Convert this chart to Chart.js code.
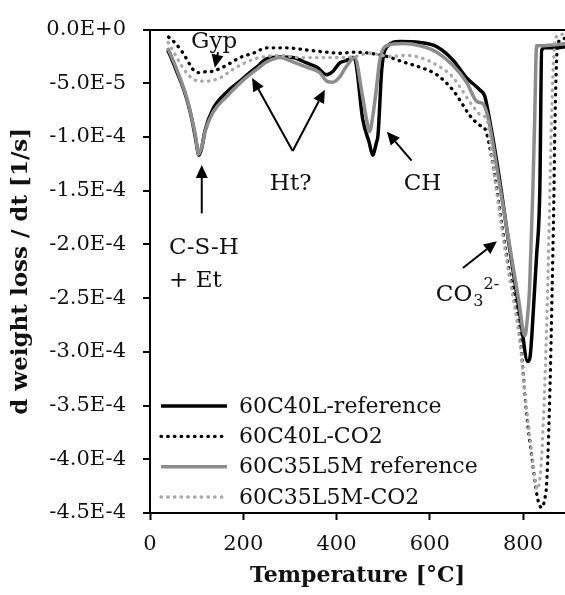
<!DOCTYPE html>
<html>
<head>
<meta charset="utf-8">
<script src="https://cdn.jsdelivr.net/npm/chart.js@4.4.1/dist/chart.umd.min.js"></script>
<style>
  html, body { margin: 0; padding: 0; background: #fff; overflow: hidden; }
</style>
</head>
<body>
<canvas id="dtg" width="565" height="595"></canvas>
<script>
// DTG curves, rate in units of 1E-5 1/s
const seriesNames = ['60C40L-reference', '60C40L-CO2', '60C35L5M reference', '60C35L5M-CO2'];

const refLTemp = [38, 49, 60, 71, 81, 90, 98, 105, 111, 118, 135, 165, 193, 214, 229, 251, 279, 306, 336, 358, 379, 392, 407, 420, 435, 440, 456, 470, 478, 485, 489, 497, 508, 536, 579, 615, 649, 679, 707, 718, 724, 746, 770, 795, 810, 815, 819, 829, 836, 840, 848, 870, 890];
const refLRate = [-1.9, -3.0, -4.2, -5.4, -6.8, -8.4, -10.2, -11.7, -11.0, -9.4, -7.4, -5.8, -4.8, -4.0, -3.5, -2.7, -2.55, -2.6, -3.1, -3.5, -4.2, -3.9, -3.1, -2.9, -2.6, -2.8, -8.3, -10.5, -11.7, -10.6, -9.8, -3.7, -1.6, -1.1, -1.2, -1.6, -2.8, -4.5, -5.6, -6.2, -7.4, -12.9, -20, -27, -30.9, -30.5, -28.4, -21.1, -14.9, -1.9, -1.7, -1.7, -1.6];

const co2LTemp = [40, 55, 71, 82, 92, 102, 111, 122, 133, 146, 165, 193, 221, 251, 293, 336, 379, 407, 440, 471, 508, 542, 579, 615, 649, 665, 686, 707, 718, 728, 765, 793, 808, 821, 831, 840, 846, 851, 858, 862, 866, 868, 871, 874, 880, 890];
const co2LRate = [-0.7, -1.3, -2.2, -3.0, -3.7, -4.0, -4.0, -3.9, -3.9, -3.7, -3.3, -2.6, -2.2, -1.7, -1.7, -1.9, -2.1, -2.2, -2.1, -2.2, -2.5, -3.0, -3.5, -4.2, -5.6, -6.6, -8.0, -8.9, -9.2, -10.8, -21.1, -28.4, -35.9, -40.5, -43.6, -44.5, -43.8, -42.0, -33, -25, -16, -10, -4, -1.5, -1.0, -0.8];

const refMTemp = [38, 49, 60, 71, 81, 90, 98, 104, 111, 118, 135, 165, 190, 208, 229, 251, 279, 306, 336, 364, 379, 392, 407, 420, 439, 455, 465, 471, 478, 486, 493, 508, 542, 579, 615, 649, 679, 701, 714, 724, 744, 770, 790, 804, 809, 814, 821, 825, 829, 840, 870, 890];
const refMRate = [-1.7, -2.8, -4.0, -5.3, -6.7, -8.3, -10.0, -11.6, -10.9, -9.5, -7.7, -6.2, -5.1, -4.4, -3.7, -3.0, -2.6, -3.0, -3.5, -4.0, -4.8, -4.9, -4.4, -3.5, -2.6, -6.0, -8.5, -9.5, -8.0, -5.3, -2.8, -1.5, -1.3, -1.5, -2.1, -3.3, -4.9, -6.7, -6.9, -8.0, -12.9, -19.8, -25, -28.5, -27, -24.1, -15.0, -8.3, -1.5, -1.5, -1.4, -1.3];

const co2MTemp = [39, 50, 64, 78, 92, 107, 122, 136, 150, 178, 208, 236, 279, 321, 364, 392, 440, 471, 514, 550, 579, 615, 649, 664, 692, 711, 722, 735, 765, 793, 808, 822, 830, 838, 844, 849, 854, 858, 862, 866, 870, 878, 890];
const co2MRate = [-1.2, -2.0, -3.1, -4.0, -4.6, -4.8, -4.8, -4.7, -4.5, -3.7, -3.0, -2.6, -2.4, -2.6, -2.6, -2.6, -2.5, -2.2, -2.5, -2.4, -2.6, -3.3, -4.4, -5.3, -7.1, -8.0, -8.3, -12.5, -21.5, -29, -35.5, -40.5, -42.8, -41, -36, -30, -22, -14, -7, -2.5, -0.8, -0.5, -0.4];

// axis setup
const tempMin = 0;
const tempMax = 890;
const tempStep = 200;
const rateMin = -45;
const rateMax = 0;
const rateStep = 5;

// peak labels: [text, temperature, rate]
const peakTexts = [
    ['Gyp', 88, -1.73],
    ['C-S-H', 41, -20.9],
    ['+ Et', 41, -24.0],
    ['Ht?', 257, -14.9],
    ['CH', 544, -14.9]
];
// arrows: [fromT, fromRate, toT, toRate]
const peakArrows = [
    [146, -2.1, 139, -3.55],
    [111, -17.1, 111, -12.6],
    [306, -11.3, 219, -4.5],
    [306, -11.3, 375, -5.6],
    [561, -12.2, 508, -9.5],
    [671, -22.2, 744, -19.7]
];

const serif = "'DejaVu Serif', serif";
const textColor = '#111';
const dotted = [0.5, 6.2];

function toPoints(xs, ys) {
    return xs.map((x, i) => ({ x: x, y: ys[i] }));
}

function formatRate(v) {
    return (v * 1e-5).toExponential(1).toUpperCase();
}

function drawArrow(ctx, x1, y1, x2, y2) {
    const ang = Math.atan2(y2 - y1, x2 - x1);
    const head = 13;
    const half = 6;
    const bx = x2 - head * Math.cos(ang);
    const by = y2 - head * Math.sin(ang);
    ctx.beginPath();
    ctx.moveTo(x1, y1);
    ctx.lineTo(bx, by);
    ctx.stroke();
    ctx.beginPath();
    ctx.moveTo(x2, y2);
    ctx.lineTo(bx + half * Math.sin(ang), by - half * Math.cos(ang));
    ctx.lineTo(bx - half * Math.sin(ang), by + half * Math.cos(ang));
    ctx.closePath();
    ctx.fill();
}

// legend inside the plot + peak annotations
const labelPlugin = {
    id: 'peakLabels',
    afterDatasetsDraw(chart) {
        const ctx = chart.ctx;
        const area = chart.chartArea;
        const xs = chart.scales.x;
        const ys = chart.scales.y;
        ctx.save();

        // legend
        const rowH = 30.3;
        chart.data.datasets.forEach((ds, i) => {
            const y = area.bottom - 16 - (3 - i) * rowH;
            ctx.strokeStyle = ds.borderColor;
            ctx.lineWidth = ds.borderWidth;
            ctx.lineCap = ds.borderCapStyle || 'butt';
            ctx.setLineDash(ds.borderDash || []);
            ctx.beginPath();
            ctx.moveTo(area.left + 11, y);
            ctx.lineTo(area.left + 77, y);
            ctx.stroke();
            ctx.setLineDash([]);
            ctx.lineCap = 'butt';
            ctx.fillStyle = textColor;
            ctx.font = '22px ' + serif;
            ctx.textBaseline = 'middle';
            ctx.textAlign = 'left';
            ctx.fillText(ds.label, area.left + 89, y + 1);
        });

        // annotations
        ctx.fillStyle = textColor;
        ctx.font = '23px ' + serif;
        ctx.textBaseline = 'alphabetic';
        peakTexts.forEach(p => {
            ctx.fillText(p[0], xs.getPixelForValue(p[1]), ys.getPixelForValue(p[2]));
        });
        // CO3 2- with sub/superscript
        const cx = xs.getPixelForValue(613);
        const cy = ys.getPixelForValue(-25.3);
        ctx.fillText('CO', cx, cy);
        const w = ctx.measureText('CO').width;
        ctx.font = '16px ' + serif;
        ctx.fillText('3', cx + w + 1, cy + 5);
        const w3 = ctx.measureText('3').width;
        ctx.fillText('2-', cx + w + w3 + 1, cy - 12);

        ctx.strokeStyle = '#000';
        ctx.fillStyle = '#000';
        ctx.lineWidth = 2;
        peakArrows.forEach(a => {
            drawArrow(ctx,
                xs.getPixelForValue(a[0]), ys.getPixelForValue(a[1]),
                xs.getPixelForValue(a[2]), ys.getPixelForValue(a[3]));
        });
        ctx.restore();
    }
};

const datasets = [
    { label: seriesNames[0], data: toPoints(refLTemp, refLRate), borderColor: '#000000', borderWidth: 3.5, order: 3 },
    { label: seriesNames[1], data: toPoints(co2LTemp, co2LRate), borderColor: '#000000', borderWidth: 3.3, borderDash: dotted, borderCapStyle: 'round', order: 2 },
    { label: seriesNames[2], data: toPoints(refMTemp, refMRate), borderColor: '#8c8c8c', borderWidth: 3.5, order: 1 },
    { label: seriesNames[3], data: toPoints(co2MTemp, co2MRate), borderColor: '#a8a8a8', borderWidth: 3.3, borderDash: dotted, borderCapStyle: 'round', order: 0 }
];
datasets.forEach(ds => {
    ds.pointRadius = 0;
    ds.fill = false;
    ds.cubicInterpolationMode = 'monotone';
});

new Chart(document.getElementById('dtg'), {
    type: 'line',
    data: { datasets: datasets },
    options: {
        responsive: false,
        animation: false,
        layout: { padding: { top: 19, right: 0, left: 0, bottom: 0 } },
        plugins: {
            legend: { display: false },
            tooltip: { enabled: false }
        },
        scales: {
            x: {
                type: 'linear',
                min: tempMin,
                max: tempMax,
                ticks: {
                    stepSize: tempStep,
                    includeBounds: false,
                    color: textColor,
                    font: { family: serif, size: 21 },
                    padding: 12
                },
                grid: { drawOnChartArea: false, tickLength: 7, tickColor: '#000', tickWidth: 2 },
                border: { color: '#000', width: 2 },
                title: {
                    display: true,
                    text: 'Temperature [°C]',
                    color: textColor,
                    font: { family: serif, size: 22, weight: 'bold' },
                    padding: { top: 0, bottom: 6 }
                },
                afterFit(scale) { scale.height = 82; }
            },
            y: {
                min: rateMin,
                max: rateMax,
                ticks: {
                    stepSize: rateStep,
                    color: textColor,
                    font: { family: serif, size: 21 },
                    padding: 17,
                    callback: (v) => formatRate(v)
                },
                grid: {
                    color: (c) => (c.tick && c.tick.value === 0 ? '#000' : 'rgba(0,0,0,0)'),
                    lineWidth: 2,
                    tickLength: 7,
                    tickColor: '#000',
                    tickWidth: 2
                },
                border: { color: '#000', width: 2 },
                title: {
                    display: true,
                    text: 'd weight loss / dt [1/s]',
                    color: textColor,
                    font: { family: serif, size: 23, weight: 'bold' },
                    padding: { top: 7, bottom: 0 }
                },
                afterFit(scale) { scale.width = 150; }
            }
        }
    },
    plugins: [labelPlugin]
});
</script>
</body>
</html>
